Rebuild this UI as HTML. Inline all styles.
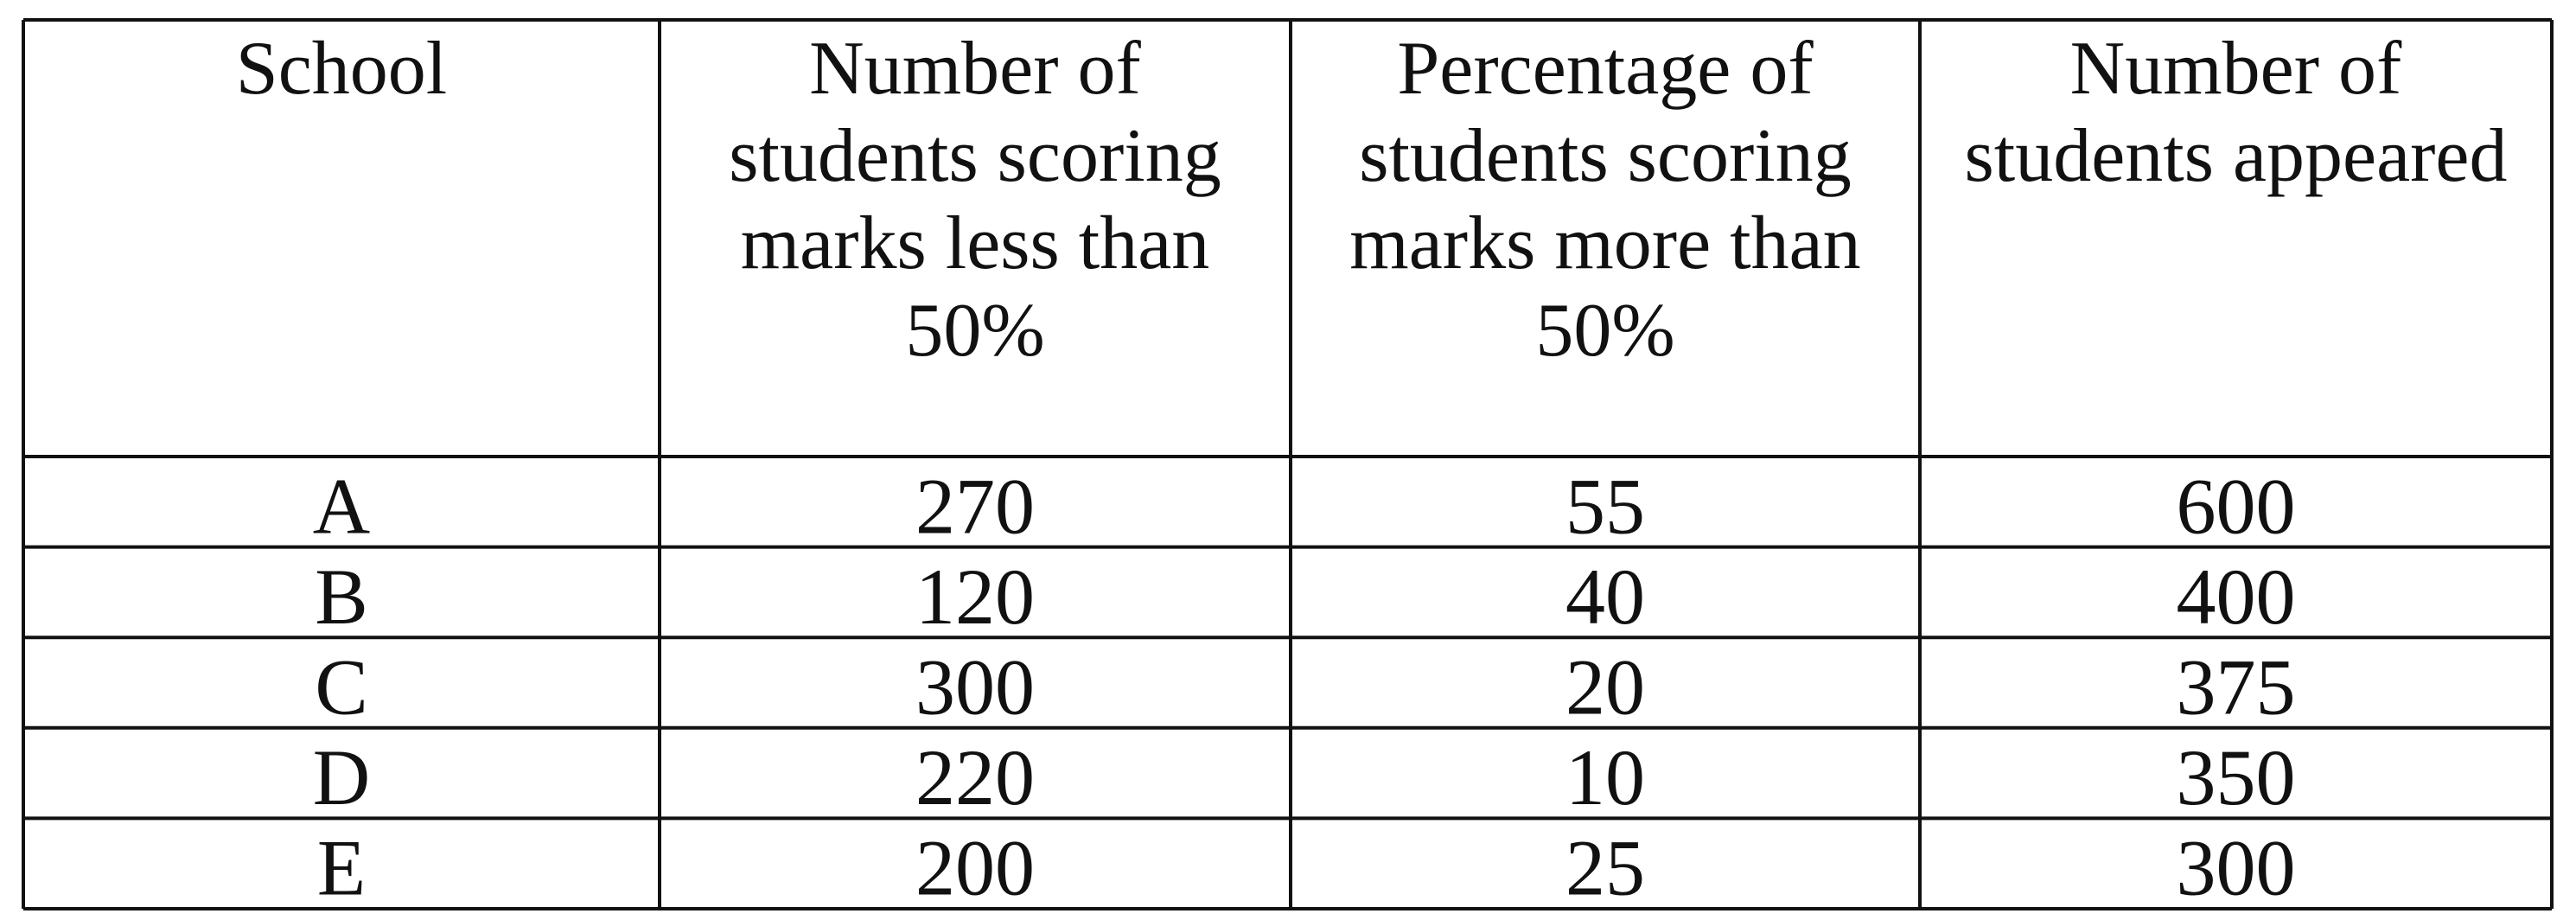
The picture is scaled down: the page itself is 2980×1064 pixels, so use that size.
<!DOCTYPE html>
<html><head><meta charset="utf-8"><style>
html,body{margin:0;padding:0;background:#fff;}
svg{display:block;}
text{font-family:"Liberation Serif",serif;fill:#111;}
</style></head><body>
<svg width="2980" height="1064" viewBox="0 0 2980 1064" id="tbl"></svg>
<script>
const schools=["A","B","C","D","E"];
const lessThan50=["270","120","300","220","200"];
const pctMoreThan50=["55","40","20","10","25"];
const appeared=["600","400","375","350","300"];
const headers=[["School"],["Number of","students scoring","marks less than","50%"],["Percentage of","students scoring","marks more than","50%"],["Number of","students appeared"]];
const colNames=["school","less-than-50","pct-more-than-50","appeared"];
const svgEl=document.getElementById('tbl');
const NS="http://www.w3.org/2000/svg";
const colX=[27,763,1493,2221,2952];
const tableTop=23,headBottom=528,tableBottom=1051;
const rowH=(tableBottom-headBottom)/schools.length;
function line(x1,y1,x2,y2,name){const l=document.createElementNS(NS,'line');
l.setAttribute('x1',x1);l.setAttribute('y1',y1);l.setAttribute('x2',x2);l.setAttribute('y2',y2);
l.setAttribute('stroke','#111');l.setAttribute('stroke-width','4');


svgEl.appendChild(l);}
function txt(x,y,s,size,name){const t=document.createElementNS(NS,'text');
t.setAttribute('x',x);t.setAttribute('y',y);t.setAttribute('text-anchor','middle');t.setAttribute('font-size',size);
t.textContent=s;


svgEl.appendChild(t);}
line(colX[0],tableTop,colX[4],tableTop,'table-top-border');
line(colX[0],tableBottom,colX[4],tableBottom,'table-bottom-border');
line(colX[0],headBottom,colX[4],headBottom,'header-bottom-border');
for(let i=1;i<schools.length;i++)line(colX[0],headBottom+i*rowH,colX[4],headBottom+i*rowH,'row-divider');
colX.forEach((x)=>line(x,tableTop,x,tableBottom,'column-divider'));
headers.forEach((h,c)=>{const cx=(colX[c]+colX[c+1])/2;
h.forEach((s,k)=>txt(cx,108+k*101,s,88,'header-'+colNames[c]));});
const cols=[schools,lessThan50,pctMoreThan50,appeared];
schools.forEach((s,r)=>{const y=headBottom+r*rowH+rowH/2+36;
cols.forEach((arr,c)=>txt((colX[c]+colX[c+1])/2,y,arr[r],92,'cell-'+colNames[c]+'-'+s.toLowerCase()));});
</script>
</body></html>
